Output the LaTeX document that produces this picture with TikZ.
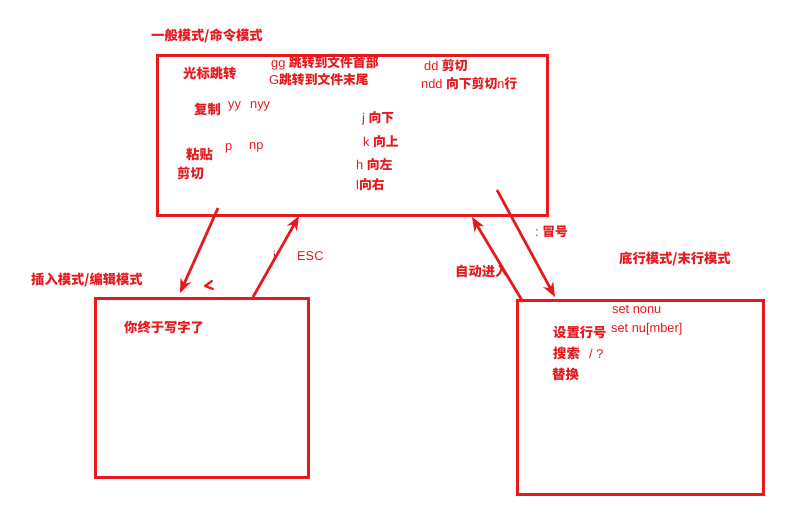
\documentclass[tikz,border=0pt]{standalone}
\usepackage{fontspec}
\setmainfont{Liberation Sans}
\newfontfamily\cjk{Noto Sans CJK SC}
\usetikzlibrary{arrows.meta}
\definecolor{pr}{RGB}{232,24,28}
\newcommand{\zh}[1]{{\cjk\bfseries #1}}
\tikzset{
  box/.style={draw=pr,line width=3pt,minimum width=#1,anchor=north west,inner sep=0pt},
  cn/.style={text=pr,anchor=west,inner sep=0pt,font=\cjk\bfseries\fontsize{13.3}{15}\selectfont},
  lt/.style={text=pr,anchor=west,inner sep=0pt,font=\fontsize{12.8}{14}\selectfont},
  arr/.style={draw=pr,line width=2.7pt,-{Stealth[length=14pt,width=11pt,inset=4pt]}}
}
\begin{document}
\begin{tikzpicture}[x=1pt,y=-1pt]
\useasboundingbox (0,0) rectangle (806,529);
% boxes
\node[box=390pt,minimum height=160pt] (cmd) at (156,54) {};
\node[box=213pt,minimum height=179pt] (ins) at (94,297) {};
\node[box=246pt,minimum height=194pt] (bot) at (516,299) {};
% titles
\node[cn] (t1) at (151,36) {一般模式/命令模式};
\node[cn] (t2) at (31,280) {插入模式/编辑模式};
\node[cn] (t3) at (619,259) {底行模式/末行模式};
% command box contents
\node[cn] (a1) at (183,73) {光标跳转};
\node[lt] (a2) at (271,63) {gg \zh{跳转到文件首部}};
\node[lt] (a3) at (269,80) {G\zh{跳转到文件末尾}};
\node[lt] (a4) at (424,66) {dd \zh{剪切}};
\node[lt] (a5) at (421,84) {ndd \zh{向下剪切}n\zh{行}};
\node[cn] (a6) at (194,109) {复制};
\node[lt] (a7) at (228,106) {yy};
\node[lt] (a8) at (250,106) {nyy};
\node[lt] (a9) at (362,118) {j \zh{向下}};
\node[lt] (a10) at (363,142) {k \zh{向上}};
\node[cn] (a11) at (186,154) {粘贴};
\node[lt] (a12) at (225,148) {p};
\node[lt] (a13) at (249,147) {np};
\node[lt] (a14) at (356,165) {h \zh{向左}};
\node[cn] (a15) at (177,173) {剪切};
\node[lt] (a16) at (356,185) {l\zh{向右}};
% insert box
\node[cn] (b1) at (124,327) {你终于写字了};
% bottom box
\node[lt] (c1) at (612,309) {set nonu};
\node[cn] (c2) at (553,332) {设置行号};
\node[lt] (c3) at (611,329) {set nu[mber]};
\node[cn] (c4) at (553,353) {搜索};
\node[lt] (c5) at (589,354) {/ ?};
\node[cn] (c6) at (552,374) {替换};
% arrow labels
\node[lt] (l1) at (273,256) {i};
\node[lt] (l2) at (297,256) {ESC};
\node[lt] (l3) at (535,232) {:\ \zh{冒号}};
\node[cn] (l4) at (455,271) {自动进入};
% connectors
\coordinate (p1) at (218,208);
\coordinate (p2) at (180,293);
\coordinate (p3) at (253,297);
\coordinate (p4) at (299,216);
\coordinate (p5) at (497,190);
\coordinate (p6) at (555,297);
\coordinate (p7) at (523,302);
\coordinate (p8) at (472,217);
\draw[arr] (p1) -- (p2);
\draw[arr] (p3) -- (p4);
\draw[arr] (p5) -- (p6);
\draw[arr] (p7) -- (p8);
% small mark
\coordinate (m1) at (212,281);
\coordinate (m2) at (205,286);
\coordinate (m3) at (213,289);
\draw[draw=pr,line width=2.2pt,line cap=round,line join=round] (m1) -- (m2) -- (m3);
\end{tikzpicture}
\end{document}
